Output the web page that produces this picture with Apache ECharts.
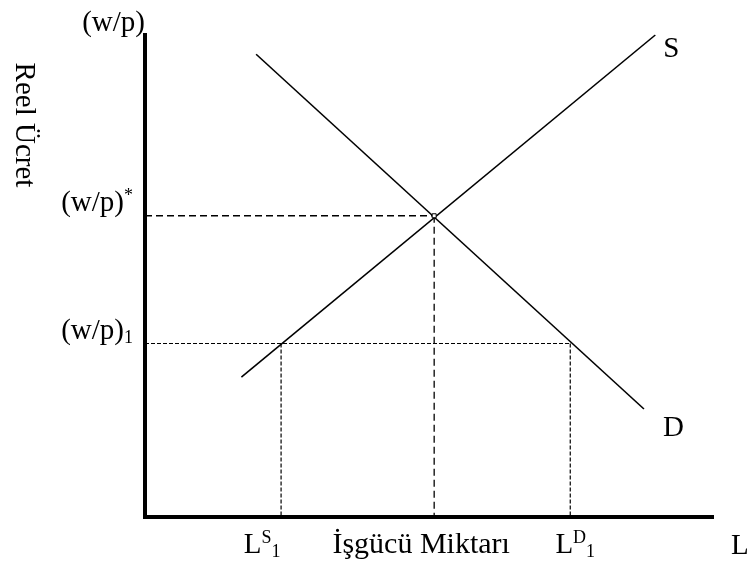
<!DOCTYPE html>
<html>
<head>
<meta charset="utf-8">
<script src="https://cdn.jsdelivr.net/npm/echarts@6/dist/echarts.min.js"></script>
<style>
  html, body { margin: 0; padding: 0; background: #fff; }
  #main { width: 750px; height: 565px; }
</style>
</head>
<body>
<div id="main"></div>
<script>
// denge ve alt ucret noktalari (0-100 olcegi)
var wStar = 62.5;
var w1 = 36;
var Lstar = 51;
var LS1 = 24;
var LD1 = 75;

// arz ve talep egrileri
var supply = [[17, 29], [90, 100]];
var demand = [[19.6, 96], [88, 22.4]];

// etiketler
var yLabelValues = [wStar, w1];
var yLabelText = ['{b|(w/p)}{sup|*}', '{b|(w/p)}{sub|1}'];
var xLabelValues = [LS1, Lstar, LD1];
var xLabelText = ['{b|L}{sup|S}{sub|1}', '{m|İşgücü Miktarı}', '{b|L}{sup|D}{sub|1}'];
var xLabelShift = [-19, -13, 5];

var FONT = 'Liberation Serif';
var rich = {
  b: { fontFamily: FONT, fontSize: 29, lineHeight: 32, color: '#000' },
  m: { fontFamily: FONT, fontSize: 30, lineHeight: 32, color: '#000' },
  sup: { fontFamily: FONT, fontSize: 18, lineHeight: 32, verticalAlign: 'top', color: '#000', padding: [0, 0, 6, 0] },
  sub: { fontFamily: FONT, fontSize: 18, lineHeight: 32, verticalAlign: 'bottom', color: '#000' }
};

function dashed(name, pts, dash, w) {
  return {
    name: name,
    type: 'line',
    data: pts,
    symbol: 'none',
    silent: true,
    lineStyle: { color: '#000', width: w, type: dash },
    z: 2
  };
}

var chart = echarts.init(document.getElementById('main'));
var option = {
  backgroundColor: '#fff',
  animation: false,
  grid: { left: 145, right: 38, top: 35, bottom: 48, containLabel: false, outerBoundsMode: 'none' },
  xAxis: {
    type: 'value', min: 0, max: 100,
    name: 'L',
    nameLocation: 'end',
    nameGap: 19,
    nameTextStyle: { fontFamily: FONT, fontSize: 29, color: '#000', verticalAlign: 'top', padding: [15, 0, 0, 0] },
    axisLine: { show: true, lineStyle: { color: '#000', width: 4, cap: 'square' } },
    axisTick: { show: false },
    axisLabel: { show: false },
    splitLine: { show: false }
  },
  yAxis: {
    type: 'value', min: 0, max: 100,
    name: '(w/p)',
    nameLocation: 'end',
    nameGap: 12,
    nameTextStyle: { fontFamily: FONT, fontSize: 29, color: '#000', align: 'right', verticalAlign: 'middle' },
    axisLine: { show: true, lineStyle: { color: '#000', width: 4, cap: 'square' } },
    axisTick: { show: false },
    axisLabel: { show: false },
    splitLine: { show: false }
  },
  graphic: [{
    type: 'text',
    x: 24, y: 125,
    rotation: -Math.PI / 2,
    style: {
      text: 'Reel Ücret',
      font: '29px "Liberation Serif"',
      fill: '#000',
      align: 'center',
      verticalAlign: 'middle'
    }
  }],
  series: [
    {
      name: 'S', type: 'line', data: supply, symbol: 'none', silent: true,
      lineStyle: { color: '#000', width: 1.6 },
      endLabel: { show: true, formatter: '{a}', fontFamily: FONT, fontSize: 29, color: '#000', offset: [0, 14] },
      z: 3
    },
    {
      name: 'D', type: 'line', data: demand, symbol: 'none', silent: true,
      lineStyle: { color: '#000', width: 1.6 },
      endLabel: { show: true, formatter: '{a}', fontFamily: FONT, fontSize: 29, color: '#000', offset: [11, 19] },
      z: 3
    },
    dashed('eqH', [[0, wStar], [Lstar, wStar]], [7, 4], 1.3),
    dashed('eqV', [[Lstar, wStar], [Lstar, 0]], [7, 4], 1.3),
    dashed('lowH', [[0, w1], [LD1, w1]], [4, 2], 1.2),
    dashed('lowS', [[LS1, w1], [LS1, 0]], [4, 2], 1.2),
    dashed('lowD', [[LD1, w1], [LD1, 0]], [4, 2], 1.2),
    {
      name: 'eq', type: 'scatter', silent: true,
      data: [[Lstar, wStar]],
      symbol: 'rect', symbolSize: 4,
      itemStyle: { color: '#fff', borderColor: '#000', borderWidth: 1, opacity: 1 },
      z: 4
    },
    {
      name: 'yLabels', type: 'scatter', silent: true, symbolSize: 0,
      itemStyle: { opacity: 1 },
      data: yLabelValues.map(function (v, i) {
        return { value: [0, v], label: { formatter: yLabelText[i] } };
      }),
      label: { show: true, color: '#000', position: 'left', distance: 12, offset: [0, -12], rich: rich }
    },
    {
      name: 'xLabels', type: 'scatter', silent: true, symbolSize: 0,
      itemStyle: { opacity: 1 },
      data: xLabelValues.map(function (v, i) {
        return { value: [v, 0], label: { formatter: xLabelText[i], offset: [xLabelShift[i], 0] } };
      }),
      label: { show: true, color: '#000', position: 'bottom', distance: 12, rich: rich }
    }
  ]
};
chart.setOption(option);
</script>
</body>
</html>
